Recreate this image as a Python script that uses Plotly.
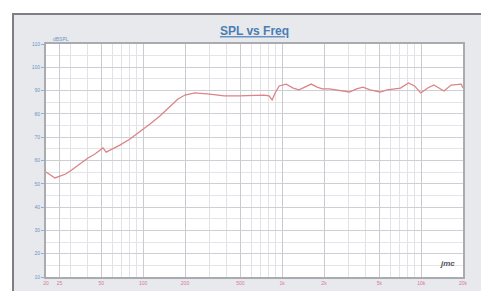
import plotly.graph_objects as go

# Data (frequency in Hz, level in dB SPL)
freq_hz = [20, 21.4, 23.2, 25.2, 27.7, 30.6, 35.2, 40.1, 45.0, 48.9, 51.4, 54.2, 59.9,
           68.5, 80.4, 94.6, 112, 132, 156, 178, 200, 235, 301, 383, 490, 629, 742,
           805, 847, 890, 952, 1068, 1200, 1323, 1464, 1617, 1785, 1940, 2183, 2454,
           2760, 3050, 3430, 3813, 4290, 5070, 5700, 6310, 7100, 8110, 8970, 9930,
           11150, 12340, 14590, 16420, 18150, 19400, 20000]
spl_db = [55.1, 53.8, 52.5, 53.3, 54.2, 55.9, 58.5, 61.1, 62.8, 64.5, 65.4, 63.6, 64.9,
          66.7, 69.2, 72.2, 75.7, 79.1, 83.4, 86.4, 88.1, 89.0, 88.5, 87.7, 87.7, 88.1, 88.1,
          87.7, 86.0, 89.0, 92.0, 92.8, 91.1, 90.3, 91.5, 92.8, 91.5, 90.7, 90.7, 90.3,
          89.9, 89.4, 90.7, 91.5, 90.3, 89.4, 90.3, 90.7, 91.1, 93.3, 92.0, 89.0,
          91.1, 92.4, 89.8, 92.4, 92.8, 92.8, 91.1]

x_tick_vals = [20, 25, 50, 100, 200, 500, 1000, 2000, 5000, 10000, 20000]
x_tick_text = ["20", "25", "50", "100", "200", "500", "1k", "2k", "5k", "10k", "20k"]
x_minor_vals = [30, 40, 60, 70, 80, 90, 300, 400, 600, 700, 800, 900,
                3000, 4000, 6000, 7000, 8000, 9000]
y_tick_vals = [10, 20, 30, 40, 50, 60, 70, 80, 90, 100, 110]

PANEL = "#e8e9ed"

fig = go.Figure()
fig.add_trace(go.Scatter(
    x=freq_hz, y=spl_db, mode="lines",
    line=dict(color="#dc8486", width=1.3),
    hoverinfo="skip", showlegend=False,
))

fig.update_layout(
    width=489, height=291,
    margin=dict(l=38, r=34, t=36, b=22, autoexpand=False),
    paper_bgcolor=PANEL,
    plot_bgcolor="white",
    font=dict(family="Liberation Sans, Arial, sans-serif"),
    title=dict(
        text="<b><u>SPL vs Freq</u></b>",
        x=0.5, xanchor="center", xref="paper",
        y=0.921, yanchor="middle", yref="container",
        font=dict(size=12, color="#4a7db3"),
    ),
    xaxis=dict(
        type="log", range=[1.30103, 4.30103],
        tickvals=x_tick_vals, ticktext=x_tick_text,
        tickfont=dict(size=5, color="#d77a90"),
        ticks="", ticklen=0, automargin=False,
        showgrid=True, gridcolor="#c9cbd1", gridwidth=1,
        minor=dict(tickvals=x_minor_vals, showgrid=True, gridcolor="#e1e2e6", gridwidth=1),
        showline=True, linecolor="#a9abb1", linewidth=2, mirror=True,
        zeroline=False, fixedrange=True,
    ),
    yaxis=dict(
        range=[10, 110],
        tickvals=y_tick_vals,
        tickfont=dict(size=5, color="#6b97c4"),
        ticks="outside", ticklen=3, tickcolor="#8fb0d3", automargin=False,
        showgrid=True, gridcolor="#cdcfd4", gridwidth=1,
        minor=dict(dtick=5, showgrid=True, gridcolor="#e4e5e9", gridwidth=1),
        showline=True, linecolor="#a9abb1", linewidth=2, mirror=True,
        zeroline=False, fixedrange=True,
    ),
    shapes=[
        # white page outside the panel (left strip and top strip)
        dict(type="rect", xref="paper", yref="paper", layer="below",
             x0=-0.2, x1=-0.0791, y0=-0.2, y1=1.3,
             fillcolor="white", line=dict(width=0)),
        dict(type="rect", xref="paper", yref="paper", layer="below",
             x0=-0.2, x1=1.2, y0=1.1288, y1=1.3,
             fillcolor="white", line=dict(width=0)),
        # panel border
        dict(type="rect", xref="paper", yref="paper", layer="below",
             x0=-0.0791, x1=1.2, y0=-0.2, y1=1.1288,
             fillcolor="rgba(0,0,0,0)", line=dict(color="#7d7f85", width=2)),
    ],
    annotations=[
        dict(text="dBSPL", xref="paper", yref="paper", x=0.012, y=1.0,
             xanchor="left", yanchor="bottom", showarrow=False,
             font=dict(size=5, color="#6b97c4")),
        dict(text="<i><b>jmc</b></i>", xref="paper", yref="paper", x=0.985, y=0.03,
             xanchor="right", yanchor="bottom", showarrow=False,
             font=dict(size=8, color="#55575c")),
    ],
)

fig.write_html("out.html")
